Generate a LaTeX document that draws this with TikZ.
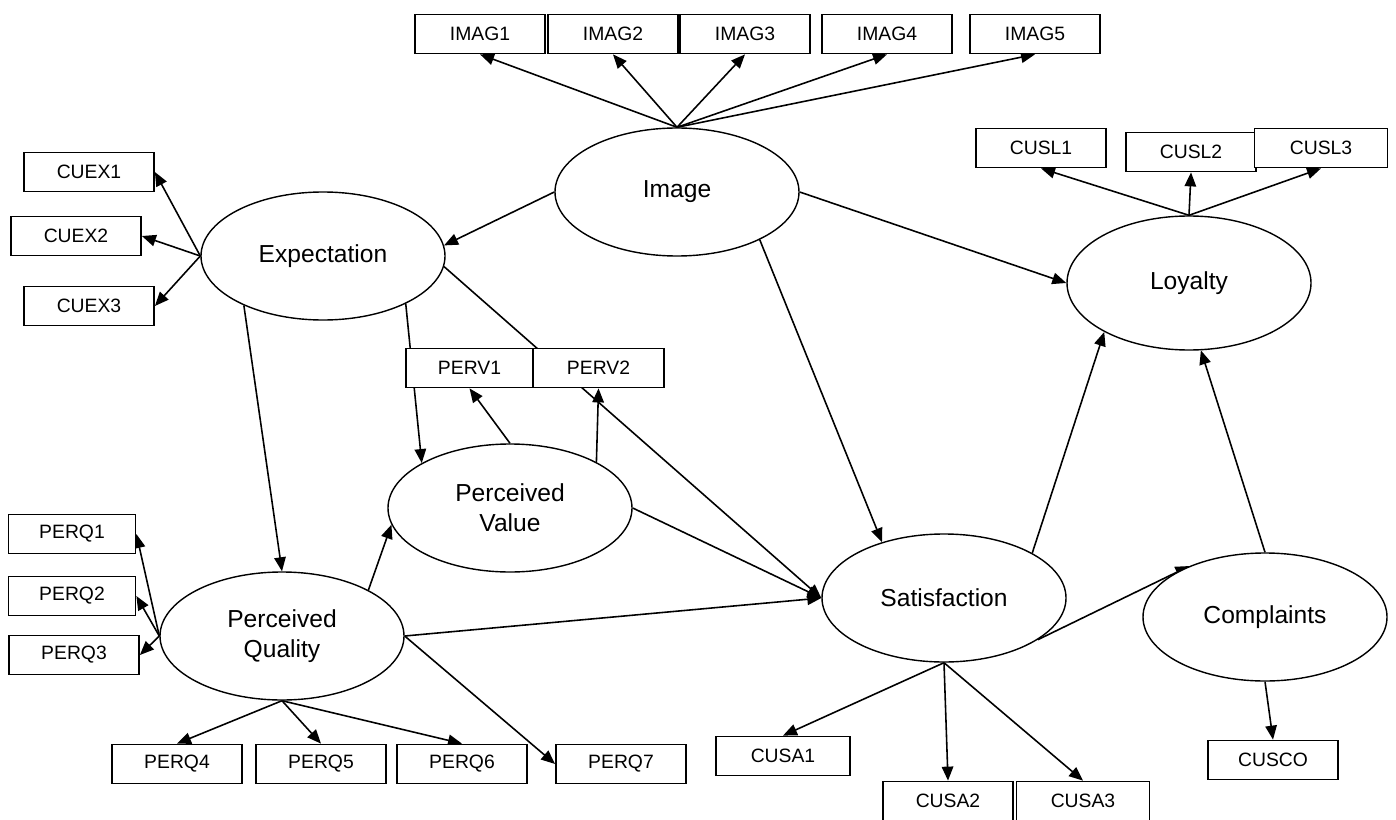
\documentclass[tikz,border=0pt]{standalone}
\usepackage{fontspec}
\setmainfont{Liberation Sans}
\usetikzlibrary{shapes.geometric,arrows.meta}
\pgfdeclarelayer{bg}
\pgfsetlayers{bg,main}

\begin{document}
\begin{tikzpicture}[
	latent/.style={shape=ellipse,draw=black,fill=white,line width=0.8pt,minimum width=4.88cm,minimum height=2.56cm,inner sep=0pt,align=center,font=\fontsize{14}{17}\selectfont},
	item/.style={shape=rectangle,draw=black,fill=white,line width=1pt,minimum width=2.6cm,minimum height=0.78cm,inner sep=0pt,font=\fontsize{11}{13}\selectfont},
	link/.style={-{Triangle[length=2.8mm,width=2.3mm]},line width=0.9pt}
]
	\useasboundingbox (0,0) rectangle (27.92,-16.4);
	
	% latent variables
	\node[latent] (img) at (13.54, -3.84)  {Image};
	\node[latent] (exp) at (6.46, -5.12)   {Expectation};
	\node[latent, minimum height=2.68cm] (loy) at (23.78, -5.66) {Loyalty};
	\node[latent] (pv)  at (10.2, -10.16)  {Perceived\\Value};
	\node[latent] (pq)  at (5.64, -12.72)  {Perceived\\Quality};
	\node[latent] (sat) at (18.88, -11.96) {Satisfaction};
	\node[latent] (com) at (25.3, -12.34)  {Complaints};
	
	% indicators
	\node[item] (imag1) at (9.6, -0.68)   {IMAG1};
	\node[item] (imag2) at (12.26, -0.68) {IMAG2};
	\node[item] (imag3) at (14.9, -0.68)  {IMAG3};
	\node[item] (imag4) at (17.74, -0.68) {IMAG4};
	\node[item] (imag5) at (20.7, -0.68)  {IMAG5};
	
	\node[item] (cusl1) at (20.82, -2.96) {CUSL1};
	\node[item] (cusl2) at (23.82, -3.04) {CUSL2};
	\node[item, minimum width=2.66cm] (cusl3) at (26.42, -2.96) {CUSL3};
	
	\node[item] (cuex1) at (1.78, -3.44) {CUEX1};
	\node[item] (cuex2) at (1.52, -4.72) {CUEX2};
	\node[item] (cuex3) at (1.78, -6.12) {CUEX3};
	
	\node[item, minimum width=2.54cm] (perv1) at (9.39, -7.36)  {PERV1};
	\node[item, minimum width=2.62cm] (perv2) at (11.97, -7.36) {PERV2};
	
	\node[item, minimum width=2.54cm] (perq1) at (1.44, -10.68) {PERQ1};
	\node[item, minimum width=2.54cm] (perq2) at (1.44, -11.92) {PERQ2};
	\node[item] (perq3) at (1.48, -13.1)  {PERQ3};
	\node[item] (perq4) at (3.54, -15.28) {PERQ4};
	\node[item] (perq5) at (6.42, -15.28) {PERQ5};
	\node[item] (perq6) at (9.24, -15.28) {PERQ6};
	\node[item] (perq7) at (12.42, -15.28) {PERQ7};
	
	\node[item, minimum width=2.68cm] (cusa1) at (15.66, -15.12) {CUSA1};
	\node[item] (cusa2) at (18.96, -16.02) {CUSA2};
	\node[item, minimum width=2.66cm] (cusa3) at (21.66, -16.02) {CUSA3};
	\node[item] (cusco) at (25.46, -15.2)  {CUSCO};
	
	\begin{pgfonlayer}{bg}
	% measurement
	\path[link] (img.north) edge (imag1.south);
	\path[link] (img.north) edge (imag2.south);
	\path[link] (img.north) edge (imag3.south);
	\path[link] (img.north) edge (imag4.south);
	\path[link] (img.north) edge (imag5.south);
	
	\path[link] (loy.north) edge (cusl1.south);
	\path[link] (loy.north) edge (cusl2.south);
	\path[link] (loy.north) edge (cusl3.south);
	
	\path[link] (exp.west) edge (cuex1.east);
	\path[link] (exp.west) edge (cuex2.east);
	\path[link] (exp.west) edge (cuex3.east);
	
	\path[link] (pv.north) edge (perv1.south);
	\path[link] (pv.28) edge (perv2.south);
	
	\path[link] (pq.west) edge (perq1.east);
	\path[link] (pq.west) edge (perq2.east);
	\path[link] (pq.west) edge (perq3.east);
	\path[link] (pq.south) edge (perq4.north);
	\path[link] (pq.south) edge (perq5.north);
	\path[link] (pq.south) edge (perq6.north);
	\path[link] (pq.east) edge (perq7.west);
	
	\path[link] (sat.south) edge (cusa1.north);
	\path[link] (sat.south) edge (cusa2.north);
	\path[link] (sat.south) edge (cusa3.north);
	\path[link] (com.south) edge (cusco.north);
	
	% structural
	\path[link] (img.west) edge (exp.5);
	\path[link] (img.east) edge (loy.west);
	\path[link] (img.-30) edge (sat.138);
	\path[link] (exp.212) edge (pq.north);
	\path[link] (exp.-30) edge (pv.153);
	\path[link] (exp.-5) edge (sat.west);
	\path[link] (pv.east) edge (sat.west);
	\path[link] (pq.28) edge (pv.188);
	\path[link] (pq.east) edge (sat.west);
	\path[link] (sat.27) edge (loy.210);
	\path[link] (sat.-24) edge (com.146);
	\path[link] (com.north) edge (loy.-80);
	\end{pgfonlayer}

\end{tikzpicture}
\end{document}
